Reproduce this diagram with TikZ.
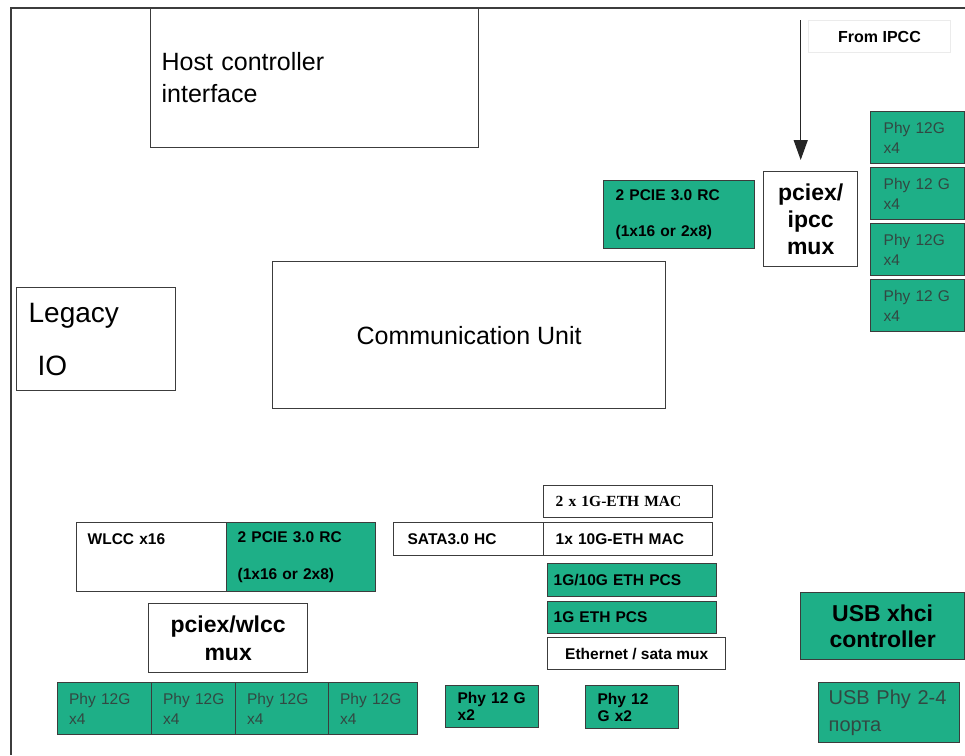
\documentclass[tikz,border=0pt]{standalone}
\usepackage{fontspec}
\setmainfont{Liberation Sans}
\newfontfamily\timesfont{Liberation Serif}
\usetikzlibrary{arrows.meta}

\definecolor{chipgreen}{RGB}{30,175,135}
\definecolor{boxline}{RGB}{60,60,60}
\definecolor{phytext}{RGB}{50,72,66}
\newcommand{\fsz}[2]{\fontsize{#1}{#2}\selectfont}

\begin{document}
\begin{tikzpicture}[x=1pt, y=-1pt,
    blk/.style={draw=boxline, line width=1.3pt, anchor=north west, inner ysep=0pt},
    grn/.style={blk, fill=chipgreen},
    big/.style={font=\fsz{23}{27}\bfseries, align=center},
    thin/.style={font=\fsz{15.5}{20}, text=phytext}]

\useasboundingbox (0,0) rectangle (965,755);

% Outer frame (open at right and bottom)
\draw[boxline, line width=1.3pt] (965,8) -| (11,755);

% Host controller interface
\node[blk, minimum width=328pt, minimum height=140pt, inner xsep=11pt, text width=306pt, align=left, font=\fsz{25}{32}] (host) at (150,7) {Host controller\\interface};

% From IPCC label, faint frame
\node[blk, draw=black!8, line width=1pt, minimum width=142pt, minimum height=32pt, font=\fsz{16}{20}\bfseries] (ipcc) at (808,20) {From IPCC};

% pciex/ipcc mux and upper PCIE
\node[blk, big, minimum width=94pt, minimum height=95pt] (ipccmux) at (763,171) {pciex/\\ipcc\\mux};
\node[grn, minimum width=151pt, minimum height=68pt, inner xsep=12pt, text width=127pt, align=left, font=\fsz{15.5}{36}\bfseries] (pcieup) at (603,180) {2 PCIE 3.0 RC\\(1x16 or 2x8)};

% Right Phy column
\foreach \i/\txt in {1/Phy 12G, 2/Phy 12 G, 3/Phy 12G, 4/Phy 12 G}
  \node[grn, thin, minimum width=94pt, minimum height=52pt, inner xsep=13pt, text width=68pt, align=left] (phyr\i) at (870,{111+56*(\i-1)}) {\mbox{\txt}\\x4};

% Arrow from IPCC down to the mux
\coordinate (ipccsrc) at (800.7,20);
\draw[black!85, line width=1.4pt, -{Triangle[length=20pt,width=14pt]}, shorten >=11pt] (ipccsrc) -- (ipccsrc |- ipccmux.north);

% Legacy IO and Communication Unit
\node[blk, minimum width=159pt, minimum height=103pt, inner xsep=12pt, text width=135pt, align=left, font=\fsz{28}{53}] (legacy) at (16,287) {Legacy\\\hspace*{9pt}IO};
\node[blk, minimum width=393pt, minimum height=147pt, font=\fsz{25}{30}] (comm) at (272,261) {Communication Unit};

% WLCC with lower PCIE
\node[blk, minimum width=150pt, minimum height=69pt, inner xsep=11pt, text width=128pt, align=left, font=\fsz{15.5}{37}\bfseries] (wlcc) at (76,522) {WLCC x16\\~};
\node[grn, minimum width=149pt, minimum height=69pt, inner xsep=11pt, text width=127pt, align=left, font=\fsz{15.5}{37}\bfseries] (pciedn) at (226,522) {2 PCIE 3.0 RC\\(1x16 or 2x8)};

% pciex/wlcc mux
\node[blk, big, font=\fsz{23}{28}\bfseries, minimum width=159pt, minimum height=69pt] (wlccmux) at (148,603) {pciex/wlcc\\mux};

% Lower Phy row
\foreach \i/\xl/\w in {1/57/94, 2/151/84, 3/235/93, 4/328/89} {
  \pgfmathsetmacro{\tw}{\w-23}
  \node[grn, thin, minimum width=\w pt, minimum height=52pt, inner xsep=11.5pt, text width=\tw pt, align=left] (phyb\i) at (\xl,682) {\mbox{Phy 12G}\\x4};
}

% SATA and Ethernet stack
\node[blk, minimum width=150pt, minimum height=33pt, inner xsep=14pt, text width=122pt, align=left, font=\fsz{15.5}{20}\bfseries] (sata) at (393,522) {SATA3.0 HC};
\node[blk, minimum width=169pt, minimum height=32pt, inner xsep=12pt, text width=145pt, align=left, font=\fsz{15.5}{20}\timesfont\bfseries] (mac2) at (543,485) {2 x 1G-ETH MAC};
\node[blk, minimum width=169pt, minimum height=33pt, inner xsep=12pt, text width=145pt, align=left, font=\fsz{15.5}{20}\bfseries] (mac10) at (543,522) {1x 10G-ETH MAC};
\node[grn, minimum width=169pt, minimum height=33pt, inner xsep=6pt, text width=157pt, align=left, font=\fsz{15.5}{20}\bfseries] (pcs10) at (547,563) {1G/10G ETH PCS};
\node[grn, minimum width=169pt, minimum height=32pt, inner xsep=6pt, text width=157pt, align=left, font=\fsz{15.5}{20}\bfseries] (pcs1) at (547,601) {1G ETH PCS};
\node[blk, minimum width=178pt, minimum height=32pt, font=\fsz{15.5}{20}\bfseries] (ethmux) at (547,637) {Ethernet / sata mux};

% Phy x2 blocks
\node[grn, minimum width=93pt, minimum height=42pt, inner xsep=12pt, text width=69pt, align=left, font=\fsz{15.5}{17}\bfseries] (phyx2a) at (445,685) {Phy 12 G\\x2};
\node[grn, minimum width=93pt, minimum height=43pt, inner xsep=12pt, text width=69pt, align=left, font=\fsz{15.5}{17}\bfseries] (phyx2b) at (585,685) {Phy 12\\G x2};

% USB
\node[grn, big, font=\fsz{23}{26}\bfseries, minimum width=164pt, minimum height=67pt] (usbctl) at (800,592) {USB xhci\\controller};
\node[grn, minimum width=141pt, minimum height=60pt, inner xsep=10pt, text width=121pt, align=left, font=\fsz{20}{27}, text=phytext] (usbphy) at (818,682) {USB Phy 2-4\\порта};

\end{tikzpicture}
\end{document}
